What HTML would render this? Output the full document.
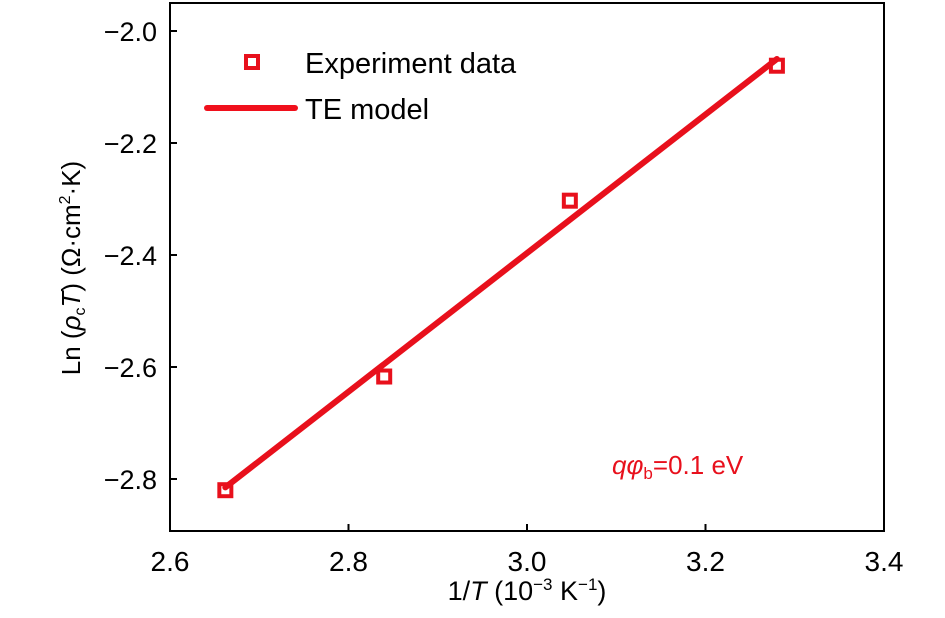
<!DOCTYPE html>
<html><head><meta charset="utf-8"><style>
body{margin:0;background:#fff;}
svg{display:block;font-family:"Myriad Pro","Liberation Sans",sans-serif;}
</style></head><body>
<svg id="chart" width="945" height="618">
<g id="axes"></g>
<g id="marks"></g>
<g>
<rect x="246" y="56" width="12" height="12" fill="none" stroke="#e8101c" stroke-width="4"/>
<text x="305" y="73" font-size="29">Experiment data</text>
<line x1="207" y1="108" x2="295" y2="108" stroke="#f0101c" stroke-width="6" stroke-linecap="round"/>
<text x="305" y="119" font-size="29">TE model</text>
</g>
<text x="612" y="474" font-size="26" fill="#e8101c"><tspan font-style="italic">qφ</tspan><tspan font-size="17" dy="5">b</tspan><tspan dy="-5">=0.1 eV</tspan></text>
<text x="527" y="600" font-size="27" text-anchor="middle">1/<tspan font-style="italic">T</tspan> (10<tspan font-size="17" dy="-10">−3</tspan><tspan dy="10"> K</tspan><tspan font-size="17" dy="-10">−1</tspan><tspan dy="10">)</tspan></text>
<text transform="translate(80,268) rotate(-90)" font-size="26" text-anchor="middle">Ln (<tspan font-style="italic">ρ</tspan><tspan font-size="16" dy="5">c</tspan><tspan font-style="italic" dy="-5">T</tspan>) (Ω·cm<tspan font-size="16" dy="-10">2</tspan><tspan dy="10">·K)</tspan></text>
</svg>
<script>
const xTicks=[2.6,2.8,3.0,3.2,3.4];
const yTicks=[-2.0,-2.2,-2.4,-2.6,-2.8];
const expX=[2.662,2.84,3.048,3.28];
const expY=[-2.82,-2.617,-2.303,-2.062];
const fitX=[2.662,3.28];
const fitY=[-2.815,-2.05];
const L=170,R=884,T=3,B=531;
const sx=v=>L+(v-2.6)/0.2*178.5;
const sy=v=>31+(-2.0-v)/0.2*112;
const NS="http://www.w3.org/2000/svg";
const ax=document.getElementById('axes'),mk=document.getElementById('marks');
function mkEl(t,a,p){const e=document.createElementNS(NS,t);for(const k in a)e.setAttribute(k,a[k]);p.appendChild(e);return e;}
const fr=mkEl('rect',{x:L,y:T,width:R-L,height:B-T,fill:'none',stroke:'#000','stroke-width':2},ax);


xTicks.forEach(v=>{const x=sx(v);
const t=mkEl('line',{x1:x,y1:B,x2:x,y2:B-7,stroke:'#000','stroke-width':2},ax);


const l=mkEl('text',{x:x,y:B+40,'font-size':28,'text-anchor':'middle'},ax);l.textContent=v.toFixed(1);

});
yTicks.forEach(v=>{const y=sy(v);
const t=mkEl('line',{x1:L,y1:y,x2:L+7,y2:y,stroke:'#000','stroke-width':2},ax);


const l=mkEl('text',{x:L-13,y:y+10,'font-size':27,'text-anchor':'end'},ax);l.textContent='−'+Math.abs(v).toFixed(1);

});
const ln=mkEl('line',{x1:sx(fitX[0]),y1:sy(fitY[0]),x2:sx(fitX[1]),y2:sy(fitY[1]),stroke:'#e8101c','stroke-width':6,'stroke-linecap':'round'},mk);


expX.forEach((v,i)=>{const r=mkEl('rect',{x:sx(v)-6,y:sy(expY[i])-6,width:12,height:12,fill:'none',stroke:'#e8101c','stroke-width':4},mk);

});
</script>
</body></html>
